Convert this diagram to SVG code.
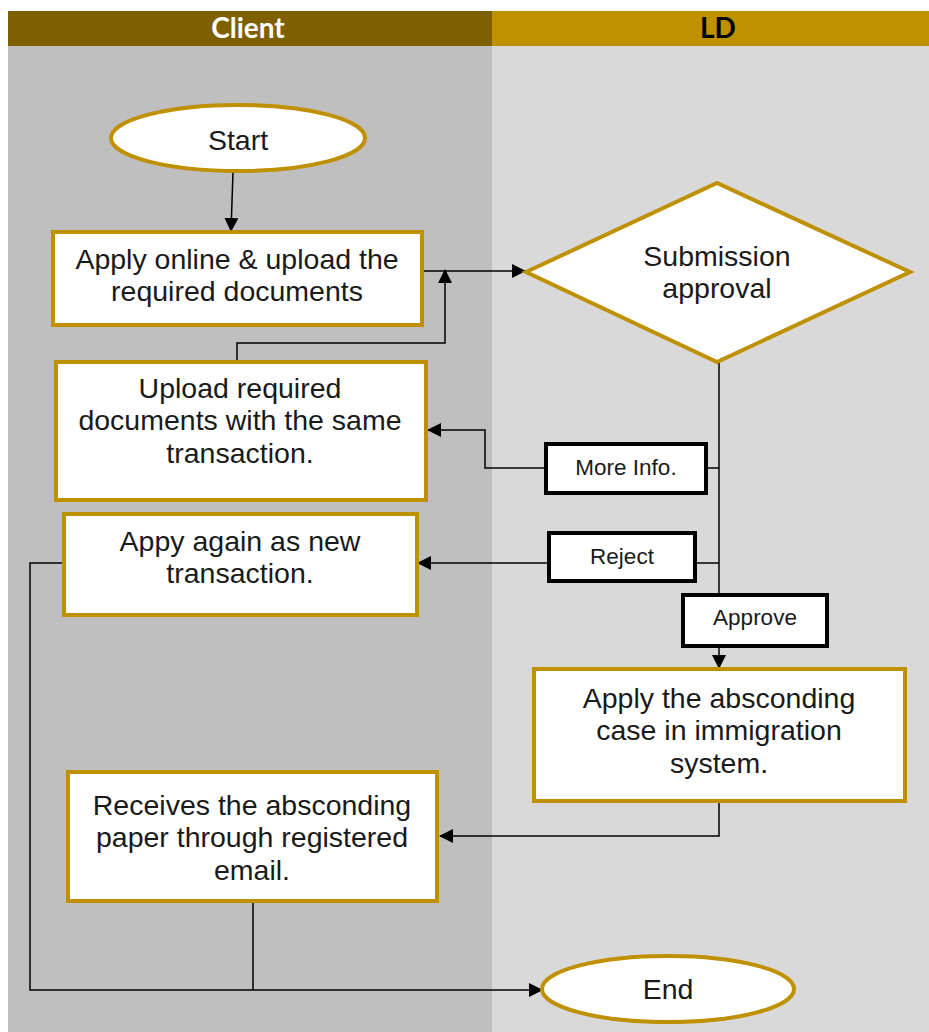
<svg xmlns="http://www.w3.org/2000/svg" width="929" height="1032" viewBox="0 0 929 1032">
<style>
.node{fill:#fff;stroke:#BF9000;stroke-width:4}
.lbl{fill:#fff;stroke:#000;stroke-width:4}
.t{font-family:"Liberation Sans",Arial,sans-serif;font-size:28.5px;fill:#1a1a1a;text-anchor:middle}
.s{font-family:"Liberation Sans",Arial,sans-serif;font-size:22.5px;fill:#1a1a1a;text-anchor:middle}
.h{font-family:Lato,"Liberation Sans",sans-serif;font-size:28px;font-weight:bold;text-anchor:middle}
.c{fill:none;stroke:#000;stroke-width:1.5}
</style>
<defs>
<marker id="ah" markerUnits="userSpaceOnUse" markerWidth="14" markerHeight="14" refX="13" refY="7" orient="auto">
<path d="M0,0 L14,7 L0,14 z" fill="#000"/>
</marker>
</defs>
<rect x="0" y="0" width="929" height="1032" fill="#fff"/>
<g id="lanes">
<rect x="8" y="46" width="484" height="986" fill="#BFBFBF"/>
<rect x="492" y="46" width="437" height="986" fill="#D9D9D9"/>
<rect x="8" y="11" width="484" height="35" fill="#7F6000"/>
<rect x="492" y="11" width="437" height="35" fill="#BF9000"/>
<text class="h" x="248" y="38" fill="#fff">Client</text>
<text class="h" x="718" y="38" fill="#000">LD</text>
</g>
<g id="connectors">
<path class="c" d="M233,172 L231,231" marker-end="url(#ah)"/>
<path class="c" d="M423,271 H525" marker-end="url(#ah)"/>
<path class="c" d="M237,361 V343 H445 V270" marker-end="url(#ah)"/>
<path class="c" d="M719,362 V594"/>
<path class="c" d="M719,646 V668" marker-end="url(#ah)"/>
<path class="c" d="M719,468 H707"/>
<path class="c" d="M545,468 H485 V430 H428" marker-end="url(#ah)"/>
<path class="c" d="M719,563 H696"/>
<path class="c" d="M548,563 H418" marker-end="url(#ah)"/>
<path class="c" d="M719,802 V836 H440" marker-end="url(#ah)"/>
<path class="c" d="M253,902 V990"/>
<path class="c" d="M63,563 H30 V990 H542" marker-end="url(#ah)"/>
</g>
<g id="start">
<ellipse class="node" cx="238" cy="138" rx="127" ry="33"/>
<text class="t" x="238" y="150">Start</text>
</g>
<g id="apply-online">
<rect class="node" x="53" y="232" width="369" height="93"/>
<text class="t" x="237" y="269">Apply online &amp; upload the</text>
<text class="t" x="237" y="301">required documents</text>
</g>
<g id="submission-approval">
<polygon class="node" points="526,272 717,183 910,272 717,362"/>
<text class="t" x="717" y="266">Submission</text>
<text class="t" x="717" y="298">approval</text>
</g>
<g id="upload-required">
<rect class="node" x="56" y="362" width="370" height="138"/>
<text class="t" x="240" y="398">Upload required</text>
<text class="t" x="240" y="430">documents with the same</text>
<text class="t" x="240" y="463">transaction.</text>
</g>
<g id="apply-again">
<rect class="node" x="64" y="514" width="353" height="101"/>
<text class="t" x="240" y="551">Appy again as new</text>
<text class="t" x="240" y="583">transaction.</text>
</g>
<g id="more-info">
<rect class="lbl" x="546" y="444" width="160" height="49"/>
<text class="s" x="626" y="475">More Info.</text>
</g>
<g id="reject">
<rect class="lbl" x="549" y="533" width="146" height="48"/>
<text class="s" x="622" y="564">Reject</text>
</g>
<g id="approve">
<rect class="lbl" x="683" y="595" width="144" height="51"/>
<text class="s" x="755" y="625">Approve</text>
</g>
<g id="apply-absconding">
<rect class="node" x="534" y="669" width="371" height="132"/>
<text class="t" x="719" y="708">Apply the absconding</text>
<text class="t" x="719" y="740">case in immigration</text>
<text class="t" x="719" y="773">system.</text>
</g>
<g id="receives-paper">
<rect class="node" x="68" y="772" width="369" height="129"/>
<text class="t" x="252" y="815">Receives the absconding</text>
<text class="t" x="252" y="847">paper through registered</text>
<text class="t" x="252" y="880">email.</text>
</g>
<g id="end">
<ellipse class="node" cx="668" cy="989" rx="126" ry="33"/>
<text class="t" x="668" y="999">End</text>
</g>
</svg>
